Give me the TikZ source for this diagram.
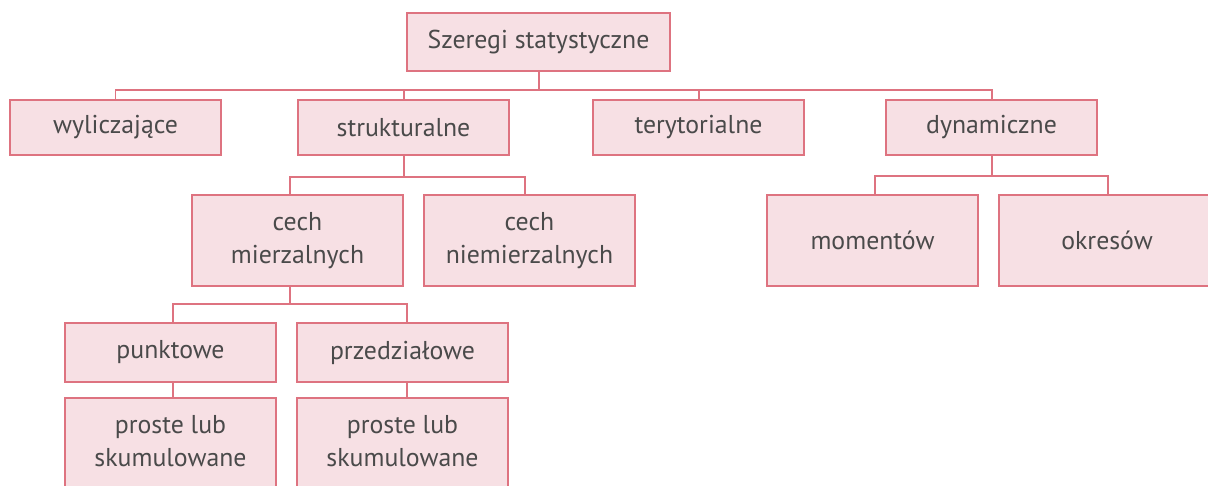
\documentclass[tikz,border=0pt]{standalone}
\usepackage{fontspec}
\setmainfont{PT Sans}
\definecolor{boxline}{HTML}{DE7380}
\definecolor{boxfill}{HTML}{F7E0E4}
\definecolor{txt}{HTML}{4A4A4A}
\begin{document}
\begin{tikzpicture}[x=1pt,y=-1pt,
  box/.style={draw=boxline, fill=boxfill, line width=1.4pt, minimum width=211pt, inner sep=0pt,
    text=txt, font=\fontsize{25.8}{33}\selectfont, align=center},
  lbl/.style={text=txt, font=\fontsize{25.8}{33}\selectfont, align=center, inner sep=0pt},
  conn/.style={draw=boxline, line width=1.4pt}]
\useasboundingbox (0,0) rectangle (1208,486);
% level 0
\node[box, minimum width=263pt, minimum height=58pt] (root) at (538.5,42) {Szeregi statystyczne};
% level 1
\node[box, minimum height=55pt] (wyl) at (115.5,127.5) {wyliczające};
\node[box, minimum height=55pt] (str) at (403.5,127.5) {strukturalne};
\node[box, minimum height=55pt] (ter) at (698.5,127.5) {terytorialne};
\node[box, minimum height=55pt] (dyn) at (991.5,127.5) {dynamiczne};
% level 2
\node[box, minimum height=91pt] (cm) at (297.5,240.5) {cech\\mierzalnych};
\node[box, minimum height=91pt] (cn) at (529.5,240.5) {cech\\niemierzalnych};
\node[box, minimum height=91pt] (mom) at (872.5,240.5) {momentów};
\node[box, minimum width=216pt, minimum height=91pt] (okr) at (1107,240.5) {okresów};
% level 3
\node[box, minimum height=59pt] (pun) at (170.5,352.5) {punktowe};
\node[box, minimum height=59pt] (prz) at (402.5,352.5) {przedziałowe};
% level 4
\node[box, minimum height=100pt] (ps1) at (170.5,448) {};
\node[box, minimum height=100pt] (ps2) at (402.5,448) {};
\node[lbl] (ps1t) at (170.5,441) {proste lub\\skumulowane};
\node[lbl] (ps2t) at (402.5,441) {proste lub\\skumulowane};
% connectors
\coordinate (b0) at (539,90);
\draw[conn] ([xshift=0.5pt]root.south) -- ([xshift=0.5pt]root.south |- b0);
\draw[conn] (wyl.north) |- (b0) -| ([xshift=0.5pt]dyn.north);
\draw[conn] ([xshift=0.5pt]str.north) -- ([xshift=0.5pt]str.north |- b0);
\draw[conn] ([xshift=0.5pt]ter.north) -- ([xshift=0.5pt]ter.north |- b0);
\coordinate (b1) at (404,177);
\draw[conn] ([xshift=0.5pt]str.south) -- ([xshift=0.5pt]str.south |- b1);
\draw[conn] ([xshift=-7.5pt]cm.north) |- (b1) -| ([xshift=-4.5pt]cn.north);
\coordinate (b2) at (992,176);
\draw[conn] ([xshift=0.5pt]dyn.south) -- ([xshift=0.5pt]dyn.south |- b2);
\draw[conn] ([xshift=2.5pt]mom.north) |- (b2) -| ([xshift=1pt]okr.north);
\coordinate (b3) at (290,304);
\draw[conn] ([xshift=-7.5pt]cm.south) -- ([xshift=-7.5pt]cm.south |- b3);
\draw[conn] ([xshift=2.5pt]pun.north) |- (b3) -| ([xshift=4.5pt]prz.north);
\draw[conn] ([xshift=2.5pt]pun.south) -- ([xshift=2.5pt]ps1.north);
\draw[conn] ([xshift=4.5pt]prz.south) -- ([xshift=4.5pt]ps2.north);
\end{tikzpicture}
\end{document}
